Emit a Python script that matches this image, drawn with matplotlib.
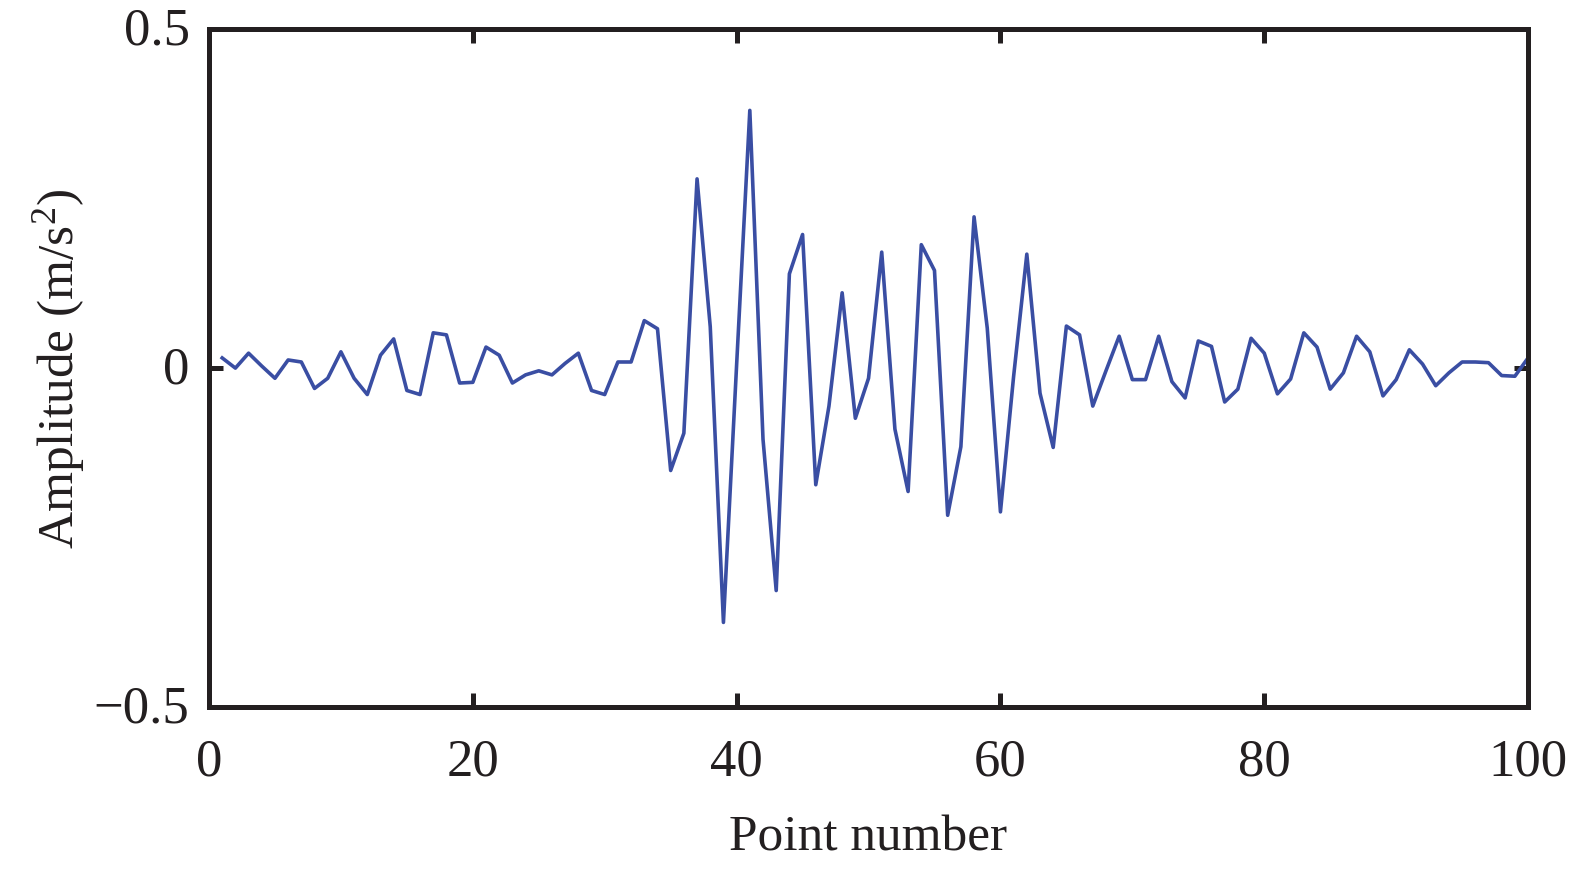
import numpy as np
import matplotlib
matplotlib.use("Agg")
import matplotlib.pyplot as plt
import matplotlib.transforms as mtransforms

# signal, one value per point (points 1..100)
point_number = np.arange(1, 101)
amplitude = [
    0.015, 0.000, 0.022, 0.003, -0.015, 0.012, 0.009, -0.030, -0.015, 0.024,
    -0.015, -0.039, 0.019, 0.043, -0.033, -0.039, 0.052, 0.049, -0.022, -0.021,
    0.031, 0.019, -0.022, -0.010, -0.004, -0.010, 0.007, 0.022, -0.033, -0.039,
    0.009, 0.009, 0.070, 0.058, -0.151, -0.096, 0.279, 0.061, -0.375, 0.005,
    0.380, -0.105, -0.328, 0.139, 0.197, -0.172, -0.056, 0.111, -0.074, -0.015,
    0.171, -0.090, -0.182, 0.182, 0.144, -0.217, -0.116, 0.223, 0.059, -0.212,
    -0.012, 0.168, -0.037, -0.117, 0.062, 0.049, -0.056, -0.004, 0.047, -0.017,
    -0.017, 0.047, -0.020, -0.044, 0.040, 0.032, -0.050, -0.031, 0.044, 0.022,
    -0.038, -0.016, 0.052, 0.031, -0.031, -0.007, 0.047, 0.024, -0.041, -0.017,
    0.027, 0.006, -0.026, -0.007, 0.009, 0.009, 0.008, -0.011, -0.012, 0.015,
]
x_ticks = [0, 20, 40, 60, 80, 100]
y_ticks = [-0.5, 0, 0.5]
y_tick_labels = ["\u22120.5", "0", "0.5"]

plt.rcParams["font.family"] = ["Liberation Serif", "DejaVu Serif"]
plt.rcParams["mathtext.fontset"] = "custom"
plt.rcParams["mathtext.rm"] = "Liberation Serif"
plt.rcParams["mathtext.it"] = "Liberation Serif:italic"

fig = plt.figure(figsize=(15.75, 8.7), dpi=100)
ax = fig.add_axes([0.1327, 0.186, 0.8375, 0.7795])

ax.plot(point_number, amplitude, color="#3a4ea3", linewidth=2.6)

ax.set_xlim(0, 100)
ax.set_ylim(-0.5, 0.5)
ax.set_xticks(x_ticks)
ax.set_yticks(y_ticks)
ax.set_yticklabels(y_tick_labels)

for s in ax.spines.values():
    s.set_linewidth(3.6)
    s.set_color("#231f20")
ax.tick_params(direction="in", length=10, width=3.6, color="#231f20",
               top=True, right=True, labelsize=38, labelcolor="#231f20")
ax.tick_params(axis="x", pad=22)
ax.tick_params(axis="y", pad=14)

# y tick labels in the reference sit a few pixels above their ticks
shift = mtransforms.ScaledTranslation(0, 4 / 100, fig.dpi_scale_trans)
for lab in ax.get_yticklabels():
    lab.set_transform(lab.get_transform() + shift)

ax.set_xlabel("Point number", fontsize=37, color="#231f20", labelpad=20)
ax.set_ylabel(r"Amplitude (m/s$^2$)", fontsize=37, color="#231f20", labelpad=5)

fig.savefig("out.png", dpi=100)
